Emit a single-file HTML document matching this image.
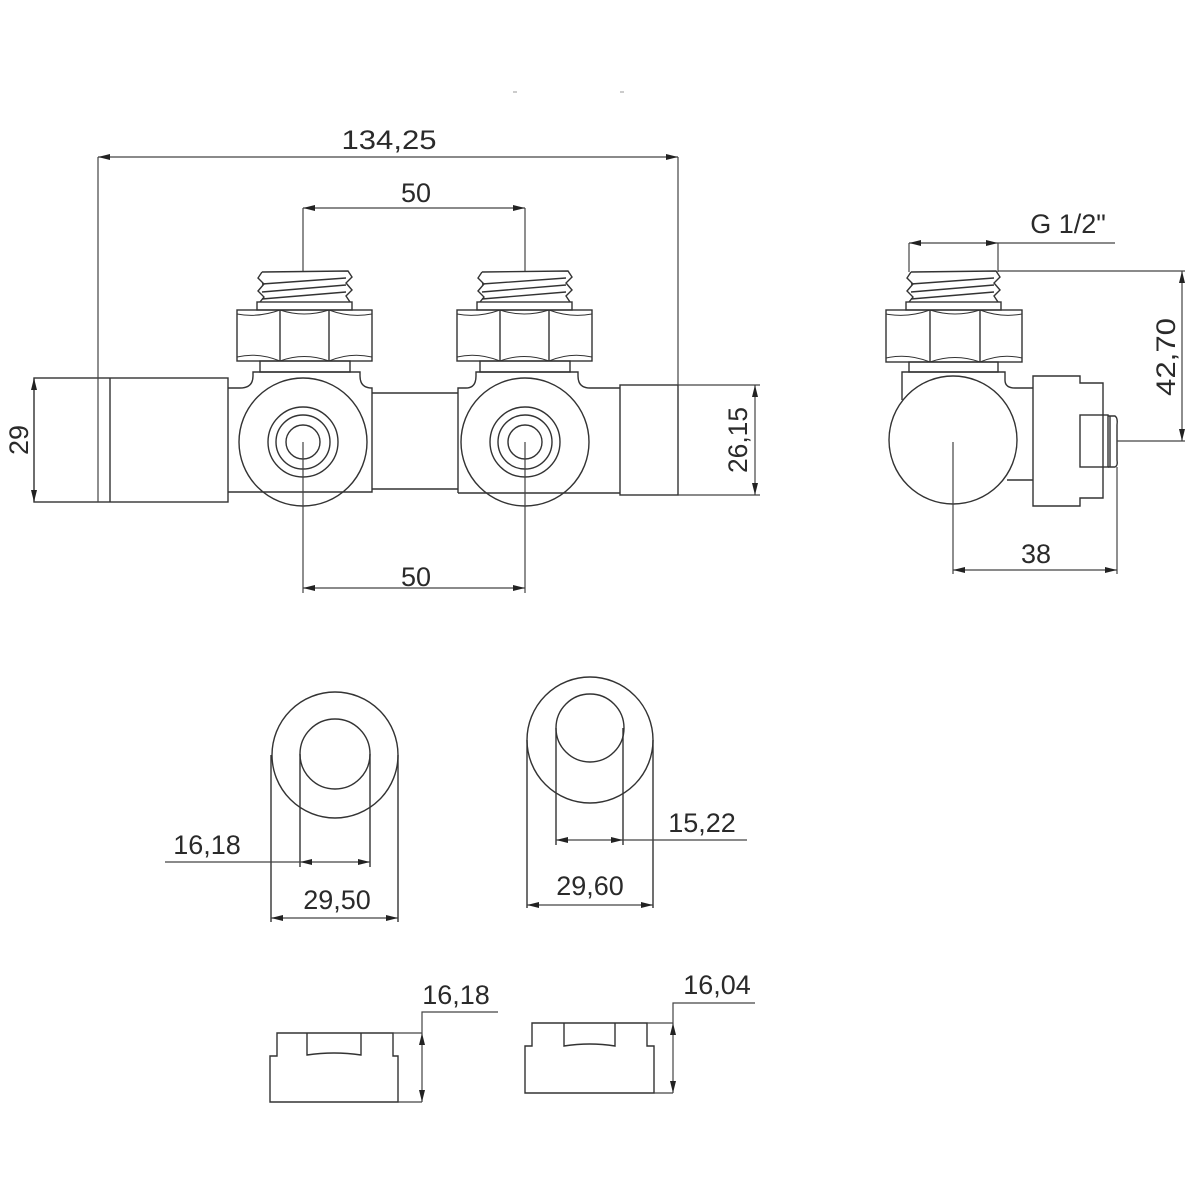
<!DOCTYPE html>
<html><head><meta charset="utf-8"><style>
html,body{margin:0;padding:0;background:#fff;}
svg{display:block}
text{font-family:"Liberation Sans",sans-serif;fill:#2a2a2a;font-size:27px;}
</style></head><body>
<svg width="1200" height="1200" viewBox="0 0 1200 1200" xmlns="http://www.w3.org/2000/svg">
<defs>
<marker id="a" viewBox="0 0 12 6" refX="12" refY="3" markerWidth="12" markerHeight="6" markerUnits="userSpaceOnUse" orient="auto-start-reverse"><path d="M0,0 L12,3 L0,6 Z" fill="#222"/></marker>
</defs>
<g fill="none" stroke="#333" stroke-width="1.4">
<!-- ===== MAIN VIEW ===== -->
<!-- left cap -->
<rect x="34" y="378" width="194" height="124"/>
<line x1="110" y1="378" x2="110" y2="502"/>
<!-- left valve body -->
<path d="M228,388 L240,388 Q253,388 253,376 L253,372 L360,372 L360,376 Q360,388 372,388 L372,492 L228,492"/>
<circle cx="303" cy="442" r="64"/>
<circle cx="303" cy="442" r="35"/>
<circle cx="303" cy="442" r="27"/>
<circle cx="303" cy="442" r="17"/>
<!-- pipe -->
<line x1="372" y1="393" x2="458" y2="393"/>
<line x1="372" y1="489" x2="458" y2="489"/>
<!-- right valve body -->
<path d="M458,493 L458,388 L466,388 Q476,388 476,376 L476,372 L578,372 L578,376 Q578,388 590,388 L620,388"/>
<line x1="458" y1="493" x2="620" y2="493"/>
<circle cx="525" cy="442" r="64"/>
<circle cx="525" cy="442" r="35"/>
<circle cx="525" cy="442" r="27"/>
<circle cx="525" cy="442" r="17"/>
<!-- right cap -->
<rect x="620" y="385" width="58" height="110"/>
<!-- left nut + thread -->
<rect x="237" y="310" width="135" height="51"/>
<line x1="280" y1="310" x2="280" y2="361"/><line x1="329" y1="310" x2="329" y2="361"/>
<path d="M237,314 Q258,318 280,310 Q304,318 329,310 Q350,318 372,314" stroke-width="1"/>
<path d="M237,357 Q258,352 280,361 Q304,352 329,361 Q350,352 372,357" stroke-width="1"/>
<rect x="260" y="361" width="90" height="11"/>
<rect x="257" y="302" width="95" height="8"/>
<path d="M262,272 L348,271 L352,277 L346,283 L352,290 L346,296 L350,302 M262,272 L258,278 L264,284 L258,291 L264,297 L260,302"/>
<path d="M262,284 L346,278 M262,292 L346,285 M262,299 L346,292"/>
<!-- right nut + thread -->
<rect x="457" y="310" width="135" height="51"/>
<line x1="500" y1="310" x2="500" y2="361"/><line x1="549" y1="310" x2="549" y2="361"/>
<path d="M457,314 Q478,318 500,310 Q524,318 549,310 Q570,318 592,314" stroke-width="1"/>
<path d="M457,357 Q478,352 500,361 Q524,352 549,361 Q570,352 592,357" stroke-width="1"/>
<rect x="480" y="361" width="90" height="11"/>
<rect x="477" y="302" width="95" height="8"/>
<path d="M482,272 L568,271 L572,277 L566,283 L572,290 L566,296 L570,302 M482,272 L478,278 L484,284 L478,291 L484,297 L480,302"/>
<path d="M482,284 L566,278 M482,292 L566,285 M482,299 L566,292"/>
</g>
<!-- dimension lines main -->
<g fill="none" stroke="#444" stroke-width="1.2">
<line x1="98" y1="157" x2="98" y2="502"/>
<line x1="678" y1="157" x2="678" y2="385"/>
<line x1="98" y1="157" x2="678" y2="157" marker-start="url(#a)" marker-end="url(#a)"/>
<line x1="303" y1="208" x2="303" y2="271"/>
<line x1="525" y1="208" x2="525" y2="271"/>
<line x1="303" y1="208" x2="525" y2="208" marker-start="url(#a)" marker-end="url(#a)"/>
<line x1="34" y1="378" x2="34" y2="502" marker-start="url(#a)" marker-end="url(#a)"/>
<line x1="678" y1="385" x2="760" y2="385"/>
<line x1="678" y1="495" x2="760" y2="495"/>
<line x1="755" y1="385" x2="755" y2="495" marker-start="url(#a)" marker-end="url(#a)"/>
<line x1="303" y1="442" x2="303" y2="593"/>
<line x1="525" y1="442" x2="525" y2="593"/>
<line x1="303" y1="588" x2="525" y2="588" marker-start="url(#a)" marker-end="url(#a)"/>
</g>
<text x="389" y="149" text-anchor="middle" textLength="95" lengthAdjust="spacingAndGlyphs">134,25</text>
<text x="416" y="202" text-anchor="middle">50</text>
<text x="416" y="586" text-anchor="middle">50</text>
<text transform="translate(28,440) rotate(-90)" text-anchor="middle">29</text>
<text transform="translate(747,440) rotate(-90)" text-anchor="middle" textLength="66" lengthAdjust="spacingAndGlyphs">26,15</text>

<!-- ===== SIDE VIEW ===== -->
<g fill="none" stroke="#333" stroke-width="1.4">
<rect x="886" y="310" width="136" height="52"/>
<line x1="930" y1="310" x2="930" y2="362"/><line x1="980" y1="310" x2="980" y2="362"/>
<path d="M886,314 Q908,318 930,310 Q955,318 980,310 Q1001,318 1022,314" stroke-width="1"/>
<path d="M886,358 Q908,353 930,362 Q955,353 980,362 Q1001,353 1022,358" stroke-width="1"/>
<rect x="909" y="362" width="89" height="10"/>
<rect x="906" y="302" width="95" height="8"/>
<path d="M911,272 L996,271 L1000,277 L994,283 L1000,290 L994,296 L998,302 M911,272 L907,278 L913,284 L907,291 L913,297 L909,302"/>
<path d="M911,284 L994,278 M911,292 L994,285 M911,299 L994,292"/>
<path d="M902,400 L902,372 L1005,372 L1005,380 Q1005,388 1015,388 L1033,388"/>
<line x1="1007" y1="480" x2="1033" y2="480"/>
<circle cx="953" cy="440" r="64"/>
<path d="M1033,376 L1080,376 L1080,383 L1103,383 L1103,498 L1080,498 L1080,506 L1033,506 Z"/>
<rect x="1080" y="415" width="28" height="52"/>
<path d="M1108,416 L1115,416 Q1118,418 1117,425 L1117,460 Q1118,466 1115,467 L1108,467"/>
<line x1="1110" y1="416" x2="1110" y2="467"/>
</g>
<g fill="none" stroke="#444" stroke-width="1.2">
<line x1="909" y1="243" x2="909" y2="272"/>
<line x1="998" y1="243" x2="998" y2="272"/>
<line x1="909" y1="243" x2="998" y2="243" marker-start="url(#a)" marker-end="url(#a)"/>
<line x1="998" y1="243" x2="1115" y2="243"/>
<line x1="998" y1="271" x2="1185" y2="271"/>
<line x1="1117" y1="441" x2="1185" y2="441"/>
<line x1="1182" y1="271" x2="1182" y2="441" marker-start="url(#a)" marker-end="url(#a)"/>
<line x1="953" y1="442" x2="953" y2="574"/>
<line x1="1117" y1="467" x2="1117" y2="574"/>
<line x1="953" y1="570" x2="1117" y2="570" marker-start="url(#a)" marker-end="url(#a)"/>
</g>
<text x="1068" y="233" text-anchor="middle">G 1/2"</text>
<text transform="translate(1175,357) rotate(-90)" text-anchor="middle" textLength="78" lengthAdjust="spacingAndGlyphs">42,70</text>
<text x="1036" y="563" text-anchor="middle">38</text>

<!-- ===== END VIEWS ===== -->
<g fill="none" stroke="#333" stroke-width="1.4">
<circle cx="335" cy="755" r="63"/>
<circle cx="335" cy="754" r="35"/>
<line x1="300" y1="754" x2="300" y2="867"/>
<line x1="370" y1="754" x2="370" y2="867"/>
<line x1="271" y1="755" x2="271" y2="922"/>
<line x1="398" y1="755" x2="398" y2="922"/>
<circle cx="590" cy="740" r="63"/>
<circle cx="590" cy="728" r="34"/>
<line x1="556" y1="728" x2="556" y2="845"/>
<line x1="623" y1="728" x2="623" y2="845"/>
<line x1="527" y1="740" x2="527" y2="908"/>
<line x1="653" y1="740" x2="653" y2="908"/>
</g>
<g fill="none" stroke="#444" stroke-width="1.2">
<line x1="165" y1="862" x2="300" y2="862"/>
<line x1="300" y1="862" x2="370" y2="862" marker-start="url(#a)" marker-end="url(#a)"/>
<line x1="271" y1="918" x2="398" y2="918" marker-start="url(#a)" marker-end="url(#a)"/>
<line x1="556" y1="840" x2="623" y2="840" marker-start="url(#a)" marker-end="url(#a)"/>
<line x1="623" y1="840" x2="747" y2="840"/>
<line x1="527" y1="905" x2="653" y2="905" marker-start="url(#a)" marker-end="url(#a)"/>
</g>
<text x="207" y="854" text-anchor="middle">16,18</text>
<text x="337" y="909" text-anchor="middle">29,50</text>
<text x="702" y="832" text-anchor="middle">15,22</text>
<text x="590" y="895" text-anchor="middle">29,60</text>

<!-- ===== BOTTOM PARTS ===== -->
<g fill="none" stroke="#333" stroke-width="1.4">
<path d="M277,1033 L393,1033 L393,1056 L398,1056 L398,1102 L270,1102 L270,1056 L277,1056 Z"/>
<path d="M307,1033 L307,1055 Q334,1051 361,1055 L361,1033"/>
<path d="M532,1023 L647,1023 L647,1046 L654,1046 L654,1093 L525,1093 L525,1046 L532,1046 Z"/>
<path d="M564,1023 L564,1046 Q590,1042 615,1046 L615,1023"/>
</g>
<g fill="none" stroke="#444" stroke-width="1.2">
<line x1="393" y1="1033" x2="422" y2="1033"/>
<line x1="398" y1="1102" x2="422" y2="1102"/>
<line x1="422" y1="1033" x2="422" y2="1102" marker-start="url(#a)" marker-end="url(#a)"/>
<polyline points="422,1033 422,1012 498,1012"/>
<line x1="647" y1="1023" x2="673" y2="1023"/>
<line x1="654" y1="1093" x2="673" y2="1093"/>
<line x1="673" y1="1023" x2="673" y2="1093" marker-start="url(#a)" marker-end="url(#a)"/>
<polyline points="673,1023 673,1003 755,1003"/>
</g>
<text x="456" y="1004" text-anchor="middle">16,18</text>
<text x="717" y="994" text-anchor="middle">16,04</text>
<line x1="513" y1="92" x2="517" y2="92" stroke="#999"/>
<line x1="620" y1="92" x2="624" y2="92" stroke="#999"/>
</svg>
</body></html>
